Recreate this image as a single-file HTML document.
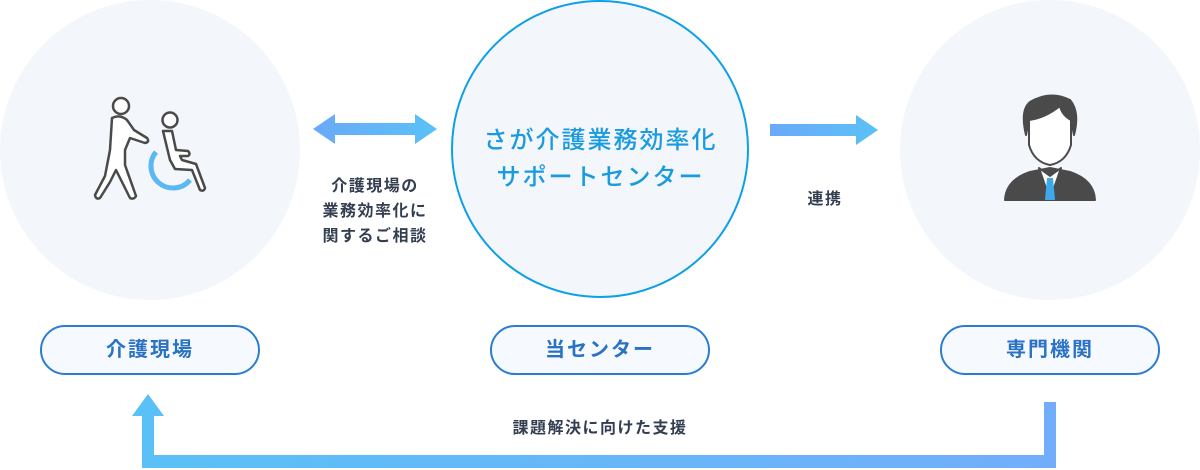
<!DOCTYPE html>
<html><head><meta charset="utf-8"><style>
body{margin:0;width:1200px;height:470px;background:#fff;position:relative;overflow:hidden;font-family:"Liberation Sans","Noto Sans CJK JP",sans-serif}
.c{position:absolute;border-radius:50%;background:#f3f6fa}
.pill{position:absolute;top:325px;width:216px;height:46px;border:2px solid #2a7dd0;border-radius:26px;background:#f6faff;color:#2a72c4;font-weight:bold;font-size:20px;text-align:center;line-height:46px;letter-spacing:2px}
.t{position:absolute;color:#333e50;font-weight:bold;font-size:16px;text-align:center;line-height:25px;letter-spacing:1.5px}
</style></head><body>
<div class="c" style="left:0;top:0;width:300px;height:300px"></div>
<div class="c" style="left:900px;top:0;width:300px;height:300px"></div>
<div class="c" style="left:451px;top:0;width:294px;height:294px;border:2.5px solid #0ea0e6"></div>
<div style="position:absolute;left:451px;top:122px;width:299px;text-align:center;color:#1a9be0;font-size:24px;line-height:37px;font-weight:500;letter-spacing:2px">さが介護業務効率化<br>サポートセンター</div>
<div class="pill" style="left:40px">介護現場</div>
<div class="pill" style="left:490px">当センター</div>
<div class="pill" style="left:940px">専門機関</div>
<div class="t" style="left:300px;top:174px;width:150px">介護現場の<br>業務効率化に<br>関するご相談</div>
<div class="t" style="left:780px;top:187px;width:90px">連携</div>
<div class="t" style="left:450px;top:416px;width:300px">課題解決に向けた支援</div>
<svg width="1200" height="470" style="position:absolute;left:0;top:0">
<defs>
<linearGradient id="g1" x1="0" x2="1"><stop offset="0" stop-color="#6aa9f8"/><stop offset="1" stop-color="#5ac1f7"/></linearGradient>
<linearGradient id="g2" x1="0" x2="1"><stop offset="0" stop-color="#5ac1f7"/><stop offset="1" stop-color="#72adfb"/></linearGradient>
</defs>
<polygon points="313,129 335,114 335,123 415,123 415,114 437,129 415,144 415,135 335,135 335,144" fill="url(#g1)"/>
<polygon points="770,124 856,124 856,115 878,130 856,145 856,136 770,136" fill="url(#g1)"/>
<path d="M142,468 V416 H132 L148,394 L164,416 H154 V455 H1044 V402 H1056 V468 Z" fill="url(#g2)"/>
<g stroke="#4a4a4a" stroke-width="2.5" fill="#fff" stroke-linejoin="round">
<circle cx="121" cy="106" r="8"/>
<circle cx="170" cy="120" r="7.5"/>
<path d="M112,118 Q120,114 127,120 L134,130 L147,138 Q150,142 145,143 L130,138 L125,150 L125,165 L136,196 Q134,200 130,198 L116,170 L110,182 L100,198 Q96,200 95,195 L105,176 L110,150 Z"/>
<path d="M163,131 L172,131 L176,150 L188,151 Q191,154 188,156 L180,156 L182,160 L196,164 L205,188 Q204,192 200,190 L192,170 L175,169 L170,160 Z"/>
</g>
<path d="M156,152 A20,20 0 1 0 190,180" stroke="#5ab9f2" stroke-width="5" fill="none"/>
<g stroke="#4a4a4a" stroke-width="2" stroke-linejoin="round">
<path d="M1005,200 Q1006,180 1030,172 L1050,168 L1070,172 Q1094,180 1095,200 Z" fill="#4a4a4a"/>
<path d="M1039,168 L1050,200 L1061,168 L1050,176 Z" fill="#fff"/>
<path d="M1047,178 L1053,178 L1055,200 L1045,200 Z" fill="#3ea9e8" stroke="none"/>
<path d="M1029,118 Q1029,100 1050,100 Q1071,100 1071,118 L1071,145 Q1066,162 1050,165 Q1034,162 1029,145 Z" fill="#fff"/>
<path d="M1026,135 Q1020,110 1030,102 Q1050,90 1070,100 Q1080,112 1074,135 L1071,120 Q1062,115 1060,106 Q1045,118 1029,120 Z" fill="#4a4a4a"/>
</g>
</svg>
</body></html>
